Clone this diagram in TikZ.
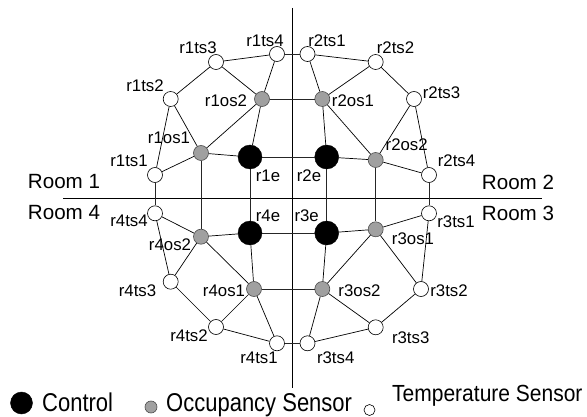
\documentclass[tikz,border=0pt]{standalone}
\usepackage{fontspec}
\setmainfont{Liberation Sans}
\definecolor{occgray}{RGB}{160,160,160}
\begin{document}
\begin{tikzpicture}[x=1pt,y=-1pt,
  ctrl/.style={circle,fill=black,draw=black,minimum size=24pt,inner sep=0pt},
  occ/.style={circle,fill=occgray,draw=black!70,line width=0.6pt,minimum size=15pt,inner sep=0pt},
  tmp/.style={circle,fill=white,draw=black,line width=0.6pt,minimum size=15pt,inner sep=0pt},
  lbl/.style={inner sep=0pt,font=\fontsize{16.8}{19}\selectfont},
  room/.style={inner sep=0pt,font=\fontsize{20.6}{24}\selectfont},
  leg/.style={inner sep=0pt,anchor=base west,font=\fontsize{22}{25}\selectfont},
  conn/.style={line width=0.7pt},
  gline/.style={line width=0.7pt,draw=black!85}
]
\useasboundingbox (0,0) rectangle (587,417);

% axes
\coordinate (vtop) at (292.5,8);
\coordinate (vbot) at (292.5,388);
\coordinate (hl) at (63,198.5);
\coordinate (hr) at (542,198.5);
\draw[gline,draw=black] (vtop) -- (vbot);
\draw[gline,draw=black] (hl) -- (hr);

% room 1
\node[tmp] (r1ts1) at (155,175) {};
\node[tmp] (r1ts2) at (170.7,99) {};
\node[tmp] (r1ts3) at (216,62) {};
\node[tmp] (r1ts4) at (277,54) {};
\node[occ] (r1os1) at (201,153) {};
\node[occ] (r1os2) at (262,99) {};
\node[ctrl] (r1e) at (250,157) {};
% room 2
\node[tmp] (r2ts1) at (307.5,54) {};
\node[tmp] (r2ts2) at (375.7,62) {};
\node[tmp] (r2ts3) at (414,99) {};
\node[tmp] (r2ts4) at (429,175) {};
\node[occ] (r2os1) at (322.3,99) {};
\node[occ] (r2os2) at (375.7,160) {};
\node[ctrl] (r2e) at (326.7,157) {};
% room 4
\node[tmp] (r4ts4) at (155,213.3) {};
\node[tmp] (r4ts3) at (170.7,281.7) {};
\node[tmp] (r4ts2) at (216,327) {};
\node[tmp] (r4ts1) at (277,343.3) {};
\node[occ] (r4os2) at (201,236.7) {};
\node[occ] (r4os1) at (254,289) {};
\node[ctrl] (r4e) at (250,233) {};
% room 3
\node[tmp] (r3ts1) at (429,213.3) {};
\node[tmp] (r3ts2) at (421,289) {};
\node[tmp] (r3ts3) at (375.7,327.3) {};
\node[tmp] (r3ts4) at (307.5,343.3) {};
\node[occ] (r3os1) at (375.7,229.3) {};
\node[occ] (r3os2) at (322.3,289) {};
\node[ctrl] (r3e) at (326.7,233) {};

% grid lines
\draw[gline] (r1ts1) -- (r4ts4);
\draw[gline] (r1os1) -- (r4os2);
\draw[gline] (r1e) -- (r4e);
\draw[gline] (r2e) -- (r3e);
\draw[gline] (r2os2) -- (r3os1);
\draw[gline] (r2ts4) -- (r3ts1);
\draw[gline] (r1ts4) -- (r2ts1);
\draw[gline] (r1os2) -- (r2os1);
\draw[gline] (r1e) -- (r2e);
\draw[gline] (r4e) -- (r3e);
\draw[gline] (r4os1) -- (r3os2);
\draw[gline] (r4ts1) -- (r3ts4);

% room 1 edges
\draw[conn] (r1ts3) -- (r1ts4);
\draw[conn] (r1ts3) -- (r1ts2);
\draw[conn] (r1ts3) -- (r1os2);
\draw[conn] (r1ts4) -- (r1os2);
\draw[conn] (r1ts2) -- (r1ts1);
\draw[conn] (r1ts2) -- (r1os1);
\draw[conn] (r1os1) -- (r1ts1);
\draw[conn] (r1os1) -- (r1os2);
\draw[conn] (r1os1) -- (r1e);
\draw[conn] (r1os2) -- (r1e);
% room 2 edges
\draw[conn] (r2ts1) -- (r2ts2);
\draw[conn] (r2ts1) -- (r2os1);
\draw[conn] (r2ts2) -- (r2os1);
\draw[conn] (r2ts2) -- (r2ts3);
\draw[conn] (r2ts3) -- (r2os2);
\draw[conn] (r2ts3) -- (r2ts4);
\draw[conn] (r2os1) -- (r2e);
\draw[conn] (r2os1) -- (r2os2);
\draw[conn] (r2e) -- (r2os2);
\draw[conn] (r2os2) -- (r2ts4);
% room 4 edges
\draw[conn] (r4ts4) -- (r4os2);
\draw[conn] (r4ts4) -- (r4ts3);
\draw[conn] (r4os2) -- (r4ts3);
\draw[conn] (r4os2) -- (r4e);
\draw[conn] (r4os2) -- (r4os1);
\draw[conn] (r4e) -- (r4os1);
\draw[conn] (r4ts3) -- (r4ts2);
\draw[conn] (r4os1) -- (r4ts2);
\draw[conn] (r4os1) -- (r4ts1);
\draw[conn] (r4ts2) -- (r4ts1);
% room 3 edges
\draw[conn] (r3e) -- (r3os1);
\draw[conn] (r3e) -- (r3os2);
\draw[conn] (r3os1) -- (r3ts1);
\draw[conn] (r3os1) -- (r3os2);
\draw[conn] (r3os1) -- (r3ts2);
\draw[conn] (r3ts1) -- (r3ts2);
\draw[conn] (r3os2) -- (r3ts3);
\draw[conn] (r3os2) -- (r3ts4);
\draw[conn] (r3ts2) -- (r3ts3);
\draw[conn] (r3ts3) -- (r3ts4);

% labels
\node[lbl] (l-r1ts1) at (129,161) {r1ts1};
\node[lbl] (l-r1ts2) at (145,86) {r1ts2};
\node[lbl] (l-r1ts3) at (198,47.5) {r1ts3};
\node[lbl] (l-r1ts4) at (265,41) {r1ts4};
\node[lbl] (l-r1os1) at (169,138) {r1os1};
\node[lbl] (l-r1os2) at (226,101) {r1os2};
\node[lbl] (l-r1e) at (268,176) {r1e};
\node[lbl] (l-r2ts1) at (327,41) {r2ts1};
\node[lbl] (l-r2ts2) at (395.5,47.5) {r2ts2};
\node[lbl] (l-r2ts3) at (441.5,92.5) {r2ts3};
\node[lbl] (l-r2ts4) at (456.5,161) {r2ts4};
\node[lbl] (l-r2os1) at (353,101) {r2os1};
\node[lbl] (l-r2os2) at (406.7,145) {r2os2};
\node[lbl] (l-r2e) at (309,176) {r2e};
\node[lbl] (l-r4ts4) at (129,221) {r4ts4};
\node[lbl] (l-r4ts3) at (137.5,291) {r4ts3};
\node[lbl] (l-r4ts2) at (189,336) {r4ts2};
\node[lbl] (l-r4ts1) at (259,357.5) {r4ts1};
\node[lbl] (l-r4os2) at (170,245) {r4os2};
\node[lbl] (l-r4os1) at (224,291) {r4os1};
\node[lbl] (l-r4e) at (268,216) {r4e};
\node[lbl] (l-r3ts1) at (456,222) {r3ts1};
\node[lbl] (l-r3ts2) at (449,291) {r3ts2};
\node[lbl] (l-r3ts3) at (410.7,337.5) {r3ts3};
\node[lbl] (l-r3ts4) at (335.7,357.5) {r3ts4};
\node[lbl] (l-r3os1) at (413,239) {r3os1};
\node[lbl] (l-r3os2) at (359.5,291) {r3os2};
\node[lbl] (l-r3e) at (306.7,216) {r3e};

% rooms
\node[room] (room1) at (64,182) {Room 1};
\node[room] (room4) at (64,212.5) {Room 4};
\node[room] (room2) at (518,182) {Room 2};
\node[room] (room3) at (518,213) {Room 3};

% legend
\node[ctrl,minimum size=22pt] (lgc) at (21.5,403) {};
\node[leg] (lgct) at (42,411) {\scalebox{1}[1.17]{Control}};
\node[occ,minimum size=12pt] (lgo) at (151,407) {};
\node[leg] (lgot) at (166,411) {\scalebox{1}[1.17]{Occupancy Sensor}};
\node[tmp,minimum size=11pt] (lgt) at (369.5,410) {};
\node[leg,font=\fontsize{21}{24}\selectfont] (lgtt) at (392,401) {\scalebox{1}[1.11]{Temperature Sensor}};
\end{tikzpicture}
\end{document}
